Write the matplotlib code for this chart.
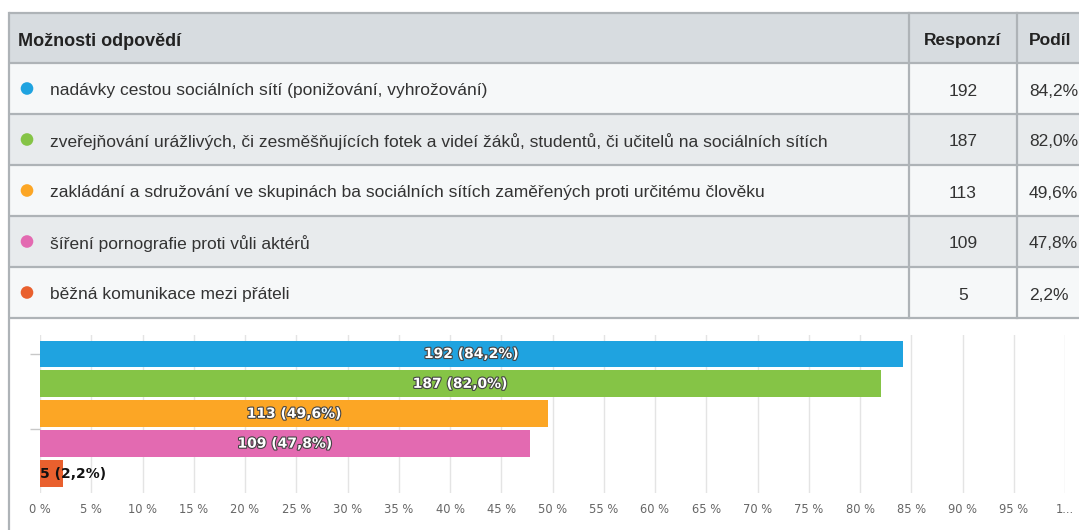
import matplotlib
matplotlib.use("Agg")
import matplotlib.pyplot as plt
from matplotlib.patches import Rectangle, Circle
import matplotlib.patheffects as pe

# ---- data ----
categories = [
    "nadávky cestou sociálních sítí (ponižování, vyhrožování)",
    "zveřejňování urážlivých, či zesměšňujících fotek a videí žáků, studentů, či učitelů na sociálních sítích",
    "zakládání a sdružování ve skupinách ba sociálních sítích zaměřených proti určitému člověku",
    "šíření pornografie proti vůli aktérů",
    "běžná komunikace mezi přáteli",
]
responses = [192, 187, 113, 109, 5]
shares = [84.2, 82.0, 49.6, 47.8, 2.2]
share_labels = ["84,2%", "82,0%", "49,6%", "47,8%", "2,2%"]
colors = ["#1fa3e0", "#85c446", "#fca625", "#e36ab1", "#e9602e"]
header_labels = ["Možnosti odpovědí", "Responzí", "Podíl"]
xticks = list(range(0, 101, 5))
xtick_labels = [f"{t} %" for t in xticks[:-1]] + ["1..."]

W, H = 1079, 530
fig = plt.figure(figsize=(W / 100, H / 100), dpi=100)
fig.patch.set_facecolor("white")

TF = ["Liberation Sans", "DejaVu Sans"]
FS = 12.5

# ---- table (pixel coordinates) ----
bg = fig.add_axes([0, 0, 1, 1])
bg.set_xlim(0, W)
bg.set_ylim(H, 0)
bg.axis("off")

left = 9
col1 = 909
col2 = 1017
row_edges = [13, 63, 114, 165, 216, 267, 318]
row_fill = ["#d7dce0", "#f6f8f9", "#e8ebed", "#f6f8f9", "#e8ebed", "#f6f8f9"]
border = "#aeb3b7"

for i in range(len(row_edges) - 1):
    bg.add_patch(Rectangle((left, row_edges[i]), W - left, row_edges[i + 1] - row_edges[i],
                           facecolor=row_fill[i], edgecolor="none", zorder=1))
for y in row_edges:
    bg.plot([left, W], [y, y], color=border, lw=1.6, zorder=2, solid_capstyle="butt")
bg.plot([left, left], [row_edges[0], H], color=border, lw=1.6, zorder=2)
for x in (col1, col2):
    bg.plot([x, x], [row_edges[0], row_edges[-1]], color=border, lw=1.6, zorder=2)

hy = (row_edges[0] + row_edges[1]) / 2 + 1
bg.text(18, hy, header_labels[0], family=TF, fontsize=13, fontweight="bold",
        color="#222222", va="center_baseline", ha="left", zorder=3)
bg.text((col1 + col2) / 2, hy, header_labels[1], family=TF, fontsize=12.5, fontweight="bold",
        color="#222222", va="center_baseline", ha="center", zorder=3)
bg.text(col2 + 12, hy, header_labels[2], family=TF, fontsize=12.5, fontweight="bold",
        color="#222222", va="center_baseline", ha="left", zorder=3)

for i, (cat, r, s, c) in enumerate(zip(categories, responses, share_labels, colors)):
    cy = (row_edges[i + 1] + row_edges[i + 2]) / 2
    bg.add_patch(Circle((27, cy), 6.3, facecolor=c, edgecolor="none", zorder=3))
    bg.text(50, cy + 1, cat, family=TF, fontsize=FS, color="#333333",
            va="center_baseline", ha="left", zorder=3)
    bg.text((col1 + col2) / 2, cy + 1, str(r), family=TF, fontsize=FS, color="#333333",
            va="center_baseline", ha="center", zorder=3)
    bg.text(col2 + 12, cy + 1, s, family=TF, fontsize=FS, color="#333333",
            va="center_baseline", ha="left", zorder=3)

# ---- bar chart ----
ax_l, ax_r = 40, 1065
ax_t, ax_b = 335, 493
ax = fig.add_axes([ax_l / W, 1 - ax_b / H, (ax_r - ax_l) / W, (ax_b - ax_t) / H])
ax.set_facecolor("none")
ypos = list(range(len(shares)))
ax.barh(ypos, shares, height=0.9, color=colors, zorder=2)
ax.set_xlim(0, 100)
ax.set_ylim(4.65, -0.635)
ax.set_xticks(xticks)
ax.set_xticklabels(xtick_labels, fontsize=8.3, color="#666666")
ax.tick_params(axis="x", length=0, pad=7)
ax.set_yticks([0, 2.5])
ax.set_yticklabels([])
ax.tick_params(axis="y", length=7, color="#c8c8c8", width=1)
ax.grid(axis="x", color="#e4e4e4", lw=1, zorder=0)
for sp in ax.spines.values():
    sp.set_visible(False)

for i, (r, s, sl) in enumerate(zip(responses, shares, share_labels)):
    label = f"{r} ({sl})"
    if s > 10:
        ax.text(s / 2, i, label, ha="center", va="center", fontsize=10, fontweight="bold",
                color="white", zorder=3,
                path_effects=[pe.withStroke(linewidth=1.6, foreground="#444444")])
    else:
        ax.text(0, i, label, ha="left", va="center", fontsize=10, fontweight="bold",
                color="#111111", zorder=3)

fig.savefig("out.png", dpi=100, facecolor="white")
